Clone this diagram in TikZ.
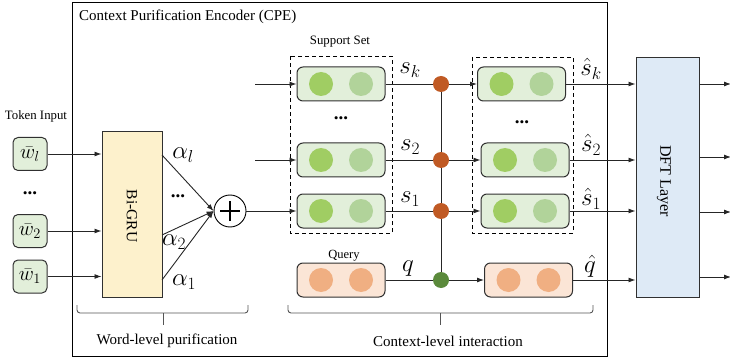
\documentclass[tikz,border=0pt]{standalone}
\usepackage{fontspec}
\setmainfont{Liberation Serif}
\usetikzlibrary{arrows.meta,calc}

\definecolor{boxgreen}{HTML}{E2EFDA}
\definecolor{dotgreenA}{HTML}{A0CD63}
\definecolor{dotgreenB}{HTML}{B1D39A}
\definecolor{boxpeach}{HTML}{FBE5D6}
\definecolor{dotpeach}{HTML}{F0AF82}
\definecolor{gruyellow}{HTML}{FDF1CC}
\definecolor{dftblue}{HTML}{DEEAF6}
\definecolor{junctionorange}{HTML}{C05A24}
\definecolor{junctiongreen}{HTML}{5B8A3C}
\definecolor{edgegray}{HTML}{303030}
\definecolor{bracegray}{HTML}{555555}

\tikzset{
  tokbox/.style={draw=edgegray, line width=1pt, fill=boxgreen, rounded corners=5pt,
    minimum width=34pt, minimum height=33pt, inner sep=0pt, font=\fontsize{21}{24}\selectfont},
  vecbox/.style={draw=edgegray, line width=1pt, rounded corners=6pt,
    minimum width=88pt, minimum height=34pt, inner sep=0pt},
  layerbox/.style={draw=edgegray, line width=1pt, inner sep=0pt},
  groupbox/.style={draw=black, line width=0.8pt, dash pattern=on 4pt off 3pt},
  junction/.style={circle, inner sep=0pt, minimum size=16pt},
  conn/.style={line width=0.9pt, draw=black!85},
  arr/.style={conn, -{Latex[length=7pt,width=5pt]}},
  mathlbl/.style={inner sep=0pt, font=\fontsize{24}{27}\selectfont},
  smalllbl/.style={inner sep=0pt, font=\fontsize{12.8}{15}\selectfont},
  biglbl/.style={inner sep=0pt, font=\fontsize{15}{18}\selectfont},
  dotslbl/.style={inner sep=0pt, anchor=base, font=\fontsize{19}{22}\selectfont\bfseries},
  bracepath/.style={draw=bracegray, line width=0.9pt, rounded corners=3pt},
}

% a feature vector drawn as a rounded box holding two circles
\newcommand{\featbox}[6]{%
  \node[vecbox, fill=#4] (#1) at (#2,#3) {};
  \fill[#5] ($(#1.center)+(-20pt,0)$) circle (12pt);
  \fill[#6] ($(#1.center)+(20pt,0)$) circle (12pt);
}

\begin{document}
\begin{tikzpicture}[x=1pt, y=-1pt]
\useasboundingbox (0,0) rectangle (730,358);

% encoder frame
\node[draw=black, line width=1pt, minimum width=535pt, minimum height=353pt, inner sep=0pt]
  (cpe) at (339.5,179.5) {};
\node[biglbl, anchor=west] (cpetitle) at (79,17) {Context Purification Encoder (CPE)};

% token inputs
\node[smalllbl] (tokin) at (36,116) {Token Input};
\node[tokbox] (wl) at (30,154) {$\bar{w}_l$};
\node[dotslbl] (wdots) at (30,194) {...};
\node[tokbox] (w2) at (30,231) {$\bar{w}_2$};
\node[tokbox] (w1) at (30,276.5) {$\bar{w}_1$};

% Bi-GRU
\node[layerbox, fill=gruyellow, minimum width=60pt, minimum height=165pt] (gru) at (132,214.5) {};
\node[biglbl, rotate=-90, font=\fontsize{15.5}{18}\selectfont] (grutext) at (132,216) {Bi-GRU};

\draw[arr] (wl.east) -- (wl.east -| gru.west);
\draw[arr] (w2.east) -- (w2.east -| gru.west);
\draw[arr] (w1.east) -- (w1.east -| gru.west);

% weighted sum
\node[draw=black, line width=0.9pt, circle, minimum size=32pt, inner sep=0pt, fill=white] (plus) at (230,211) {};
\draw[line width=1.1pt] ($(plus.center)+(-10pt,0)$) -- ($(plus.center)+(10pt,0)$)
  ($(plus.center)+(0,-10pt)$) -- ($(plus.center)+(0,10pt)$);
\coordinate (gl) at (162,155);
\coordinate (g2) at (162,235);
\coordinate (g1) at (162,280);
\draw[arr] (gl) -- (plus.west);
\draw[arr] (g2) -- (plus.west);
\draw[arr] (g1) -- (plus.west);
\node[mathlbl] (al) at (183,155) {$\alpha_l$};
\node[dotslbl] (adots) at (178,197) {...};
\node[mathlbl] (a2) at (174,242) {$\alpha_2$};
\node[mathlbl] (a1) at (184,282) {$\alpha_1$};

% support set and query
\node[smalllbl] (suplbl) at (340,42) {Support Set};
\draw[groupbox] (290,56) rectangle (392,233);
\featbox{sk}{341}{84}{boxgreen}{dotgreenA}{dotgreenB}
\node[dotslbl] (sdots) at (341,120) {...};
\featbox{s2}{341}{160}{boxgreen}{dotgreenA}{dotgreenB}
\featbox{s1}{341}{211}{boxgreen}{dotgreenA}{dotgreenB}
\node[smalllbl, font=\fontsize{12.5}{15}\selectfont] (qlbl) at (344,256) {Query};
\featbox{q}{341}{280}{boxpeach}{dotpeach}{dotpeach}

\coordinate (ink) at (255,84);
\coordinate (in2) at (255,160);
\draw[arr] (ink) -- (sk.west);
\draw[arr] (in2) -- (s2.west);
\draw[arr] (plus.east) -- (s1.west);

% interacted representations
\draw[groupbox] (472,57) rectangle (573,233);
\featbox{skh}{521.5}{84}{boxgreen}{dotgreenA}{dotgreenB}
\node[dotslbl] (shdots) at (522,124) {...};
\featbox{s2h}{525}{160}{boxgreen}{dotgreenA}{dotgreenB}
\featbox{s1h}{525}{211}{boxgreen}{dotgreenA}{dotgreenB}
\featbox{qh}{528.5}{280}{boxpeach}{dotpeach}{dotpeach}

% interaction junctions
\coordinate (jk) at (441,84);
\coordinate (jq) at (441,280);
\draw[conn] (jk) -- (jq);
\draw[arr] (sk.east) -- (skh.west);
\draw[arr] (s2.east) -- (s2h.west);
\draw[arr] (s1.east) -- (s1h.west);
\draw[arr] (q.east) -- (qh.west);
\node[junction, fill=junctionorange] (dk) at (441,84) {};
\node[junction, fill=junctionorange] (d2) at (441,160) {};
\node[junction, fill=junctionorange] (d1) at (441,211) {};
\node[junction, fill=junctiongreen] (dq) at (441,280) {};

\node[mathlbl] (lsk) at (410,70) {$s_k$};
\node[mathlbl] (ls2) at (410,147) {$s_2$};
\node[mathlbl] (ls1) at (410,199) {$s_1$};
\node[mathlbl] (lq) at (408,269) {$q$};

% DFT layer
\node[layerbox, fill=dftblue, minimum width=63pt, minimum height=239pt] (dft) at (667.5,177.5) {};
\node[biglbl, rotate=-90, font=\fontsize{16}{19}\selectfont] (dfttext) at (664,181) {DFT Layer};

\draw[arr] (skh.east) -- (skh.east -| dft.west);
\draw[arr] (s2h.east) -- (s2h.east -| dft.west);
\draw[arr] (s1h.east) -- (s1h.east -| dft.west);
\draw[arr] (qh.east) -- (qh.east -| dft.west);

\node[mathlbl] (lskh) at (591,69) {$\hat{s}_k$};
\node[mathlbl] (ls2h) at (591,145) {$\hat{s}_2$};
\node[mathlbl] (ls1h) at (591,199) {$\hat{s}_1$};
\node[mathlbl] (lqh) at (590,266) {$\hat{q}$};

\coordinate (o1) at (731,84);
\coordinate (o2) at (731,157);
\coordinate (o3) at (731,212);
\coordinate (o4) at (731,277);
\draw[arr] (dft.east |- o1) -- (o1);
\draw[arr] (dft.east |- o2) -- (o2);
\draw[arr] (dft.east |- o3) -- (o3);
\draw[arr] (dft.east |- o4) -- (o4);

% stage braces
\draw[bracepath] (77,305) -- (77,313) -- (248,313) -- (248,305);
\draw[bracepath] (163,313) -- (163,325);
\node[biglbl] (wordlbl) at (167,341) {Word-level purification};
\draw[bracepath] (288,305) -- (288,313) -- (593,313) -- (593,305);
\draw[bracepath] (440,313) -- (440,325);
\node[biglbl] (ctxlbl) at (448,341) {Context-level interaction};
\end{tikzpicture}
\end{document}
